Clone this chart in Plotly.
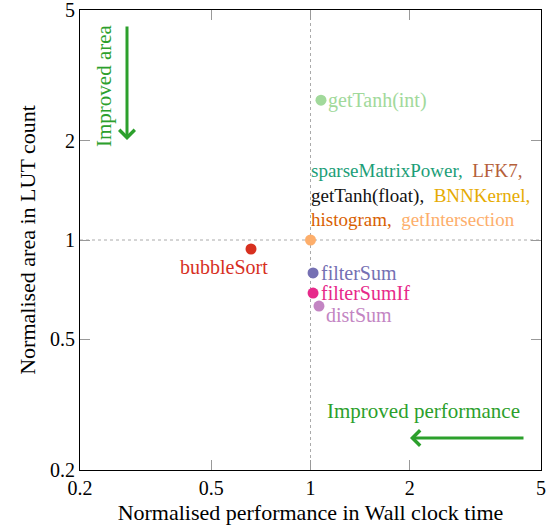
import math
import plotly.graph_objects as go

# ---- data ----
names = ["getTanh(int)", "group", "bubbleSort", "filterSum", "filterSumIf", "distSum"]
perf = [1.076, 1.0, 0.66, 1.018, 1.018, 1.061]
area = [2.66, 1.0, 0.939, 0.794, 0.69, 0.63]
colors = ["#a1d99b", "#fdae6b", "#d7301f", "#7570b3", "#e7298a", "#c385c3"]

group_names = ["sparseMatrixPower", "LFK7", "getTanh(float)", "BNNKernel", "histogram", "getIntersection"]
group_colors = ["#1b9e77", "#b5603a", "#111111", "#e6ab02", "#d95f02", "#fdae6b"]

tick_vals = [0.2, 0.5, 1, 2, 5]
tick_text = ["0.2", "0.5", "1", "2", "5"]
axis_min, axis_max = 0.2, 5

FONT = "Liberation Serif, serif"
GREEN = "#2ca02c"
LBL = 20
EPS = 1e-4

fig = go.Figure()

# reference lines at 1
fig.add_shape(type="line", xref="x", yref="paper", x0=1, x1=1, y0=0, y1=1,
              line=dict(color="#aaaaaa", width=1, dash="dot"), layer="below")
fig.add_shape(type="line", xref="paper", yref="y", x0=0, x1=1, y0=1, y1=1,
              line=dict(color="#aaaaaa", width=1, dash="dot"), layer="below")

for i in range(len(names)):
    fig.add_trace(go.Scatter(x=[perf[i]], y=[area[i]], mode="markers",
                             marker=dict(size=11, color=colors[i]),
                             showlegend=False, hoverinfo="skip", cliponaxis=False))

def ann(i, text, xshift, yshift, xanchor, color):
    fig.add_annotation(x=math.log10(perf[i]), y=math.log10(area[i]), text=text,
                       showarrow=False, xanchor=xanchor, yanchor="middle",
                       xshift=xshift, yshift=yshift,
                       font=dict(family=FONT, size=LBL, color=color))

ann(0, names[0], 5, 0, "left", colors[0])
ann(2, names[2], -27, -18, "center", colors[2])
ann(3, names[3], 6, 0, "left", colors[3])
ann(4, names[4], 6, 0, "left", colors[4])
ann(5, names[5], 5, -9, "left", colors[5])

parts = []
for k, (n, c) in enumerate(zip(group_names, group_colors)):
    sep = ",&nbsp; " if k < len(group_names) - 1 else ""
    parts.append(f"<span style='color:{c}'>{n}{sep}</span>")
group_text = parts[0] + parts[1] + "<br>" + parts[2] + parts[3] + "<br>" + parts[4] + parts[5]
fig.add_annotation(x=0, y=math.log10(area[1]), text=group_text, showarrow=False,
                   xanchor="left", yanchor="bottom", align="left", xshift=-2, yshift=8,
                   font=dict(family=FONT, size=19, color="#111111"))

# improvement arrows and labels (paper coords)
def px(p):
    return (p - 80) / 461
def py(p):
    return (470 - p) / 460

fig.add_annotation(xref="paper", yref="paper", x=px(127), y=py(140), ax=0, ay=-115,
                   axref="pixel", ayref="pixel", text="", showarrow=True,
                   arrowhead=4, arrowsize=1, arrowwidth=3, arrowcolor=GREEN)
fig.add_annotation(xref="paper", yref="paper", x=px(410), y=py(438), ax=115, ay=0,
                   axref="pixel", ayref="pixel", text="", showarrow=True,
                   arrowhead=4, arrowsize=1, arrowwidth=3, arrowcolor=GREEN)
fig.add_annotation(xref="paper", yref="paper", x=px(104), y=py(86), text="Improved area",
                   showarrow=False, textangle=-90, xanchor="center", yanchor="middle",
                   font=dict(family=FONT, size=21, color=GREEN))
fig.add_annotation(xref="paper", yref="paper", x=px(423), y=py(411), text="Improved performance",
                   showarrow=False, xanchor="center", yanchor="middle",
                   font=dict(family=FONT, size=21, color=GREEN))

axis_common = dict(type="log", tickvals=tick_vals, ticktext=tick_text,
                   showgrid=False, zeroline=False, showline=True, linecolor="black",
                   linewidth=1, mirror="ticks", ticks="inside", ticklen=10,
                   tickcolor="#999999", tickwidth=1, automargin=False,
                   ticklabeloverflow="allow",
                   tickfont=dict(family=FONT, size=20, color="black"),
                   range=[math.log10(axis_min) - EPS, math.log10(axis_max) + EPS])

fig.update_xaxes(title=dict(text="Normalised performance in Wall clock time",
                            font=dict(family=FONT, size=22, color="black"), standoff=6),
                 **axis_common)
fig.update_yaxes(title=dict(text="Normalised area in LUT count",
                            font=dict(family=FONT, size=22, color="black"), standoff=8),
                 **axis_common)

fig.update_layout(width=551, height=529, margin=dict(l=80, r=10, t=10, b=59, autoexpand=False),
                  plot_bgcolor="white", paper_bgcolor="white",
                  font=dict(family=FONT))

fig.write_html("out.html")
